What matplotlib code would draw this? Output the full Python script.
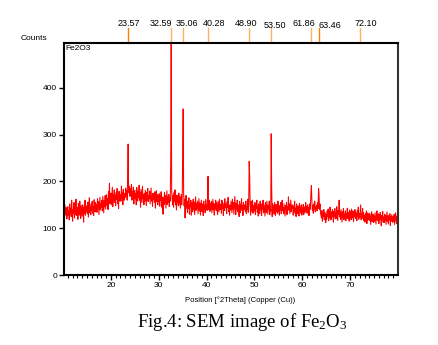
import matplotlib
matplotlib.use("Agg")
import matplotlib.pyplot as plt
import numpy as np

plt.rcParams["font.family"] = ["Liberation Sans", "DejaVu Sans"]
plt.rcParams["mathtext.fontset"] = "custom"
plt.rcParams["mathtext.rm"] = "Liberation Serif"
plt.rcParams["mathtext.it"] = "Liberation Serif:italic"

# scan: 2theta from 10.0 in steps of 0.1 deg, one row per degree
theta_start = 10.0
theta_step = 0.1
counts = [
    130, 142, 125, 138, 150, 128, 135, 144, 120, 139,   # 10
    146, 128, 137, 118, 152, 133, 141, 125, 160, 131,   # 11
    115, 140, 132, 155, 122, 147, 130, 162, 127, 138,   # 12
    144, 119, 153, 136, 128, 158, 134, 121, 149, 137,   # 13
    126, 150, 139, 113, 145, 132, 160, 128, 141, 135,   # 14
    148, 131, 156, 124, 140, 165, 133, 146, 129, 152,   # 15
    138, 158, 132, 147, 127, 161, 143, 135, 155, 140,   # 16
    150, 134, 163, 142, 157, 129, 148, 166, 139, 153,   # 17
    145, 160, 137, 168, 151, 133, 159, 146, 170, 141,   # 18
    156, 172, 149, 163, 140, 178, 158, 196, 152, 166,   # 19
    175, 150, 168, 188, 146, 171, 160, 182, 155, 169,   # 20
    148, 176, 162, 185, 153, 170, 142, 179, 165, 158,   # 21
    172, 158, 190, 164, 177, 150, 183, 168, 160, 174,   # 22
    166, 186, 171, 180, 160, 210, 280, 182, 175, 190,   # 23
    168, 185, 172, 194, 160, 178, 170, 188, 152, 176,   # 24
    181, 163, 175, 150, 187, 169, 158, 179, 165, 192,   # 25
    160, 176, 145, 183, 168, 155, 190, 163, 172, 150,   # 26
    174, 158, 181, 166, 148, 177, 160, 185, 157, 170,   # 27
    163, 179, 152, 171, 186, 158, 168, 147, 175, 161,   # 28
    170, 155, 178, 143, 166, 180, 157, 172, 150, 169,   # 29
    158, 174, 147, 169, 160, 178, 145, 167, 155, 130,   # 30
    165, 150, 177, 156, 170, 143, 162, 180, 151, 168,   # 31
    155, 172, 146, 165, 158, 240, 495, 180, 162, 150,   # 32
    170, 145, 176, 158, 182, 150, 163, 139, 171, 155,   # 33
    160, 148, 175, 152, 167, 143, 158, 172, 150, 165,   # 34
    250, 355, 175, 148, 162, 122, 155, 170, 143, 158,   # 35
    134, 158, 142, 165, 130, 151, 146, 160, 128, 155,   # 36
    148, 135, 162, 140, 156, 129, 150, 167, 138, 152,   # 37
    142, 158, 131, 149, 163, 137, 154, 128, 146, 160,   # 38
    136, 152, 144, 127, 158, 140, 149, 133, 161, 145,   # 39
    150, 138, 165, 211, 140, 147, 160, 136, 152, 141,   # 40
    157, 133, 148, 162, 139, 154, 128, 150, 143, 160,   # 41
    138, 155, 141, 129, 158, 146, 135, 162, 140, 151,   # 42
    147, 132, 160, 143, 154, 127, 149, 138, 163, 145,   # 43
    152, 140, 131, 157, 145, 166, 136, 150, 128, 148,   # 44
    139, 158, 146, 133, 162, 141, 155, 130, 149, 168,   # 45
    144, 129, 153, 140, 160, 135, 150, 143, 125, 157,   # 46
    133, 151, 142, 163, 138, 148, 127, 155, 145, 140,   # 47
    150, 136, 158, 131, 147, 140, 162, 134, 153, 243,   # 48
    212, 148, 128, 158, 142, 136, 160, 132, 148, 137,   # 49
    137, 155, 129, 150, 143, 160, 134, 147, 126, 152,   # 50
    145, 131, 158, 139, 152, 127, 148, 141, 160, 133,   # 51
    150, 138, 126, 155, 142, 133, 158, 145, 130, 149,   # 52
    141, 158, 129, 147, 136, 302, 190, 125, 152, 138,   # 53
    148, 130, 155, 140, 127, 151, 136, 145, 132, 158,   # 54
    135, 150, 128, 146, 139, 155, 131, 142, 160, 137,   # 55
    144, 131, 152, 138, 126, 148, 140, 155, 129, 146,   # 56
    138, 167, 140, 152, 131, 145, 160, 135, 149, 142,   # 57
    150, 128, 146, 137, 158, 132, 143, 125, 152, 139,   # 58
    131, 148, 140, 126, 153, 137, 145, 132, 150, 128,   # 59
    143, 135, 151, 129, 146, 140, 133, 155, 138, 147,   # 60
    132, 150, 138, 145, 127, 152, 140, 148, 175, 191,   # 61
    160, 138, 148, 132, 152, 141, 158, 135, 146, 143,   # 62
    150, 137, 155, 142, 185, 172, 140, 152, 133, 128,   # 63
    122, 138, 115, 131, 126, 140, 118, 134, 128, 112,   # 64
    130, 119, 137, 125, 141, 116, 133, 122, 145, 127,   # 65
    118, 135, 124, 140, 128, 113, 136, 125, 142, 120,   # 66
    133, 121, 146, 126, 117, 138, 129, 160, 124, 135,   # 67
    119, 140, 127, 113, 136, 123, 142, 118, 130, 125,   # 68
    137, 116, 131, 124, 143, 120, 134, 127, 115, 139,   # 69
    124, 135, 118, 141, 129, 122, 137, 114, 132, 126,   # 70
    140, 121, 133, 127, 116, 138, 125, 145, 119, 131,   # 71
    123, 136, 150, 118, 130, 125, 142, 120, 134, 116,   # 72
    128, 113, 131, 122, 137, 110, 126, 133, 118, 129,   # 73
    117, 132, 121, 108, 128, 135, 114, 125, 130, 112,   # 74
    126, 115, 133, 120, 109, 128, 137, 116, 124, 131,   # 75
    110, 129, 118, 134, 122, 105, 127, 119, 136, 113,   # 76
    124, 112, 130, 117, 128, 108, 121, 135, 114, 126,   # 77
    109, 127, 118, 131, 106, 124, 115, 129, 120, 112,   # 78
    125, 114, 130, 108, 122, 133, 117, 110, 126, 119,   # 79
]
theta = theta_start + theta_step * np.arange(len(counts))

peak_pos = [23.57, 32.59, 35.06, 40.28, 48.90, 53.50, 61.86, 63.46, 72.10]
peak_labels = ["23.57", "32.59", "35.06", "40.28", "48.90",
               "53.50", "61.86", "63.46", "72.10"]
y_ticks = [0, 100, 200, 300, 400]
x_ticks = [20, 30, 40, 50, 60, 70]

# label offsets (pixels) so the peak labels sit like the original
lab_dx = [1, -10, 4, 6, -3, 4, -7, 11, 6]
lab_dy = [20, 20, 20, 20, 20, 17, 20, 17, 20]
mark_col = ["#FF8000", "#FFB060", "#FFB060", "#FFB060", "#FFB060",
            "#FFB060", "#FFB060", "#FF8000", "#FFB060"]

fig = plt.figure(figsize=(4.39, 3.45), dpi=100)
ax = fig.add_axes([64 / 439, 70 / 345, 334 / 439, 232 / 345])

ax.plot(theta, counts, color="#FF0000", lw=0.75)
ax.set_xlim(10.2, 80.0)
ax.set_ylim(0, 496)

ax.set_yticks(y_ticks)
ax.set_xticks(x_ticks)
ax.set_xticks(np.arange(11, 80, 1), minor=True)
ax.tick_params(axis="both", which="major", direction="out", length=3.5,
               width=1.0, labelsize=6, pad=1.5)
ax.tick_params(axis="x", which="minor", direction="out", length=2.2,
               width=0.8)
for s in ax.spines.values():
    s.set_linewidth(1.5)
    s.set_color("black")
ax.spines["right"].set_color("#333333")

trans = ax.get_xaxis_transform()
for p, lab, dx, dy, c in zip(peak_pos, peak_labels, lab_dx, lab_dy, mark_col):
    ax.plot([p, p], [1.0, 1.0 + 15 / 232], color=c, lw=1.0,
            transform=trans, clip_on=False)
    ax.annotate(lab, xy=(p, 1.0), xycoords=trans,
                xytext=(dx, dy), textcoords="offset pixels",
                ha="center", va="center", fontsize=6.5)

ax.text(0.005, 0.99, "Fe2O3", transform=ax.transAxes,
        ha="left", va="top", fontsize=6)
fig.text(34 / 439, 1 - 38 / 345, "Counts", ha="center", va="center",
         fontsize=6)
fig.text(240 / 439, 1 - 300 / 345, "Position [°2Theta] (Copper (Cu))",
         ha="center", va="center", fontsize=5.5)
fig.text(242 / 439, 1 - 322 / 345, r"Fig.4: SEM image of Fe$_2$O$_3$",
         ha="center", va="center", fontsize=13.5, family="Liberation Serif")

fig.savefig("out.png", dpi=100)
plt.close(fig)
